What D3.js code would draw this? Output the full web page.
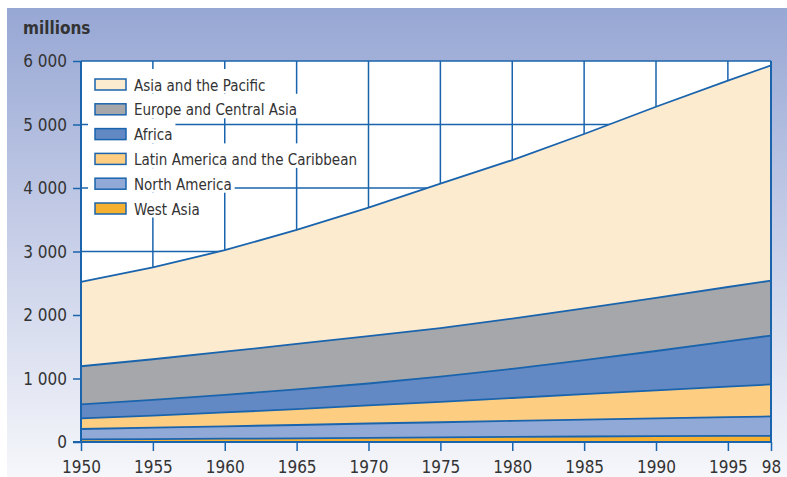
<!DOCTYPE html>
<html>
<head>
<meta charset="utf-8">
<script src="https://cdn.jsdelivr.net/npm/d3@7"></script>
<style>
body{margin:0;background:#fff;}
text{font-family:"Liberation Sans Narrow","DejaVu Sans Condensed","Roboto Condensed",sans-serif;fill:#333;}
</style>
</head>
<body>
<svg width="787" height="477"></svg>
<script>
// data (millions)
var years=[1950,1955,1960,1965,1970,1975,1980,1985,1990,1995,1998]
var westAsia=[40,45,52,58,66,73,80,87,92,96,97]
var northAmerica=[165,180,195,210,225,238,252,266,280,295,305]
var latinAmerica=[167,191,218,251,285,322,361,401,441,480,504]
var africa=[221,247,277,310,345,395,460,535,620,715,770]
var europe=[600,640,680,715,745,765,790,815,835,855,865]
var asiaPacific=[1327,1447,1598,1796,2024,2277,2497,2746,3012,3249,3389]

var regions=["West Asia","North America","Latin America and the Caribbean","Africa","Europe and Central Asia","Asia and the Pacific"]
var seriesValues=[westAsia,northAmerica,latinAmerica,africa,europe,asiaPacific]
var colors=["#f6b030","#91a9d6","#fdce82","#6389c4","#a6a7aa","#fdebd0"]
var yTicks=[0,1000,2000,3000,4000,5000,6000]
var xTicks=[1950,1955,1960,1965,1970,1975,1980,1985,1990,1995,1998]
var xTickLabels=["1950","1955","1960","1965","1970","1975","1980","1985","1990","1995","98"]

var blue="#1a64ad"
var svg=d3.select("svg")

// background panel
var defs=svg.append("defs")
var grad=defs.append("linearGradient").attr("id","bg").attr("x1",0).attr("y1",0).attr("x2",0).attr("y2",1)
grad.append("stop").attr("offset","0%").attr("stop-color","#97a7d4")
grad.append("stop").attr("offset","45%").attr("stop-color","#c3cbe6")
grad.append("stop").attr("offset","100%").attr("stop-color","#f6f7fb")
svg.append("rect").attr("x",7).attr("y",8).attr("width",780).attr("height",469).attr("fill","url(#bg)")

var x=d3.scaleLinear().domain([1950,1998]).range([81,771])
var y=d3.scaleLinear().domain([0,6000]).range([442,61])

// plot background
svg.append("rect").attr("x",x(1950)).attr("y",y(6000))
    .attr("width",x(1998)-x(1950)).attr("height",y(0)-y(6000)).attr("fill","#fff")

// grid
svg.append("g").selectAll("line").data(xTicks).enter().append("line")
    .attr("x1",function(d){return x(d)}).attr("x2",function(d){return x(d)})
    .attr("y1",y(6000)).attr("y2",y(0))
    .attr("stroke",blue).attr("stroke-width",1.5)
svg.append("g").selectAll("line").data(yTicks).enter().append("line")
    .attr("x1",x(1950)).attr("x2",x(1998))
    .attr("y1",function(d){return y(d)}).attr("y2",function(d){return y(d)})
    .attr("stroke",blue).attr("stroke-width",1.5)

// stacked areas
var table=years.map(function(yr,i){
    var row={year:yr}
    regions.forEach(function(r,j){row[r]=seriesValues[j][i]})
    return row
})
var stack=d3.stack().keys(regions)(table)

var area=d3.area()
    .x(function(d){return x(d.data.year)})
    .y0(function(d){return y(d[0])})
    .y1(function(d){return y(d[1])})
var topLine=d3.line()
    .x(function(d){return x(d.data.year)})
    .y(function(d){return y(d[1])})

svg.append("g").selectAll("path").data(stack).enter().append("path")
    .attr("d",area)
    .attr("fill",function(d,i){return colors[i]})
svg.append("g").selectAll("path").data(stack).enter().append("path")
    .attr("d",topLine)
    .attr("fill","none")
    .attr("stroke",blue).attr("stroke-width",1.8)

// legend
var legendOrder=regions.slice().reverse()
var legendColors=colors.slice().reverse()
var legend=svg.append("g").attr("transform","translate(95,73)")
var item=legend.selectAll("g").data(legendOrder).enter().append("g")
    .attr("transform",function(d,i){return "translate(0,"+(i*24.8)+")"})
item.append("rect").attr("class","bgbox")
    .attr("x",-7).attr("y",-4).attr("height",24.5).attr("fill","#fff")
item.append("rect").attr("x",0).attr("y",6).attr("width",31).attr("height",11)
    .attr("fill",function(d,i){return legendColors[i]})
    .attr("stroke",blue).attr("stroke-width",1.5)
item.append("text").attr("x",39).attr("y",17.5)
    .style("font-size","15px")
    .text(function(d){return d})
item.each(function(){
    var g=d3.select(this)
    var w=g.select("text").node().getComputedTextLength()
    g.select(".bgbox").attr("width",39+w+10)
})

// axes
var yAxis=d3.axisLeft(y).tickValues(yTicks).tickSize(8).tickPadding(6)
    .tickFormat(function(d){return d3.format(",")(d).replace(","," ")})
var gy=svg.append("g").attr("transform","translate("+x(1950)+",0)").call(yAxis)
gy.select(".domain").remove()
gy.selectAll("line").attr("stroke",blue).attr("stroke-width",1.5)
gy.selectAll("text").style("font-size","17px").attr("fill","#333").attr("dy","0.35em")

var xAxis=d3.axisBottom(x).tickValues(xTicks).tickSize(9).tickPadding(10)
    .tickFormat(function(d,i){return xTickLabels[i]})
var gx=svg.append("g").attr("transform","translate(0,"+y(0)+")").call(xAxis)
gx.select(".domain").remove()
gx.selectAll("line").attr("stroke",blue).attr("stroke-width",1.5)
gx.selectAll("text").style("font-size","17px").attr("fill","#333")

// frame lines
svg.append("line").attr("x1",x(1950)).attr("x2",x(1950)).attr("y1",y(6000)).attr("y2",y(0))
    .attr("stroke",blue).attr("stroke-width",2)
svg.append("line").attr("x1",x(1998)).attr("x2",x(1998)).attr("y1",y(6000)).attr("y2",y(0))
    .attr("stroke",blue).attr("stroke-width",2)
svg.append("line").attr("x1",x(1950)-8).attr("x2",x(1998)).attr("y1",y(0)).attr("y2",y(0))
    .attr("stroke",blue).attr("stroke-width",2)

svg.append("text").attr("x",23).attr("y",34).text("millions")
    .style("font-size","17px").style("font-weight","bold").attr("fill","#333")
</script>
</body>
</html>
